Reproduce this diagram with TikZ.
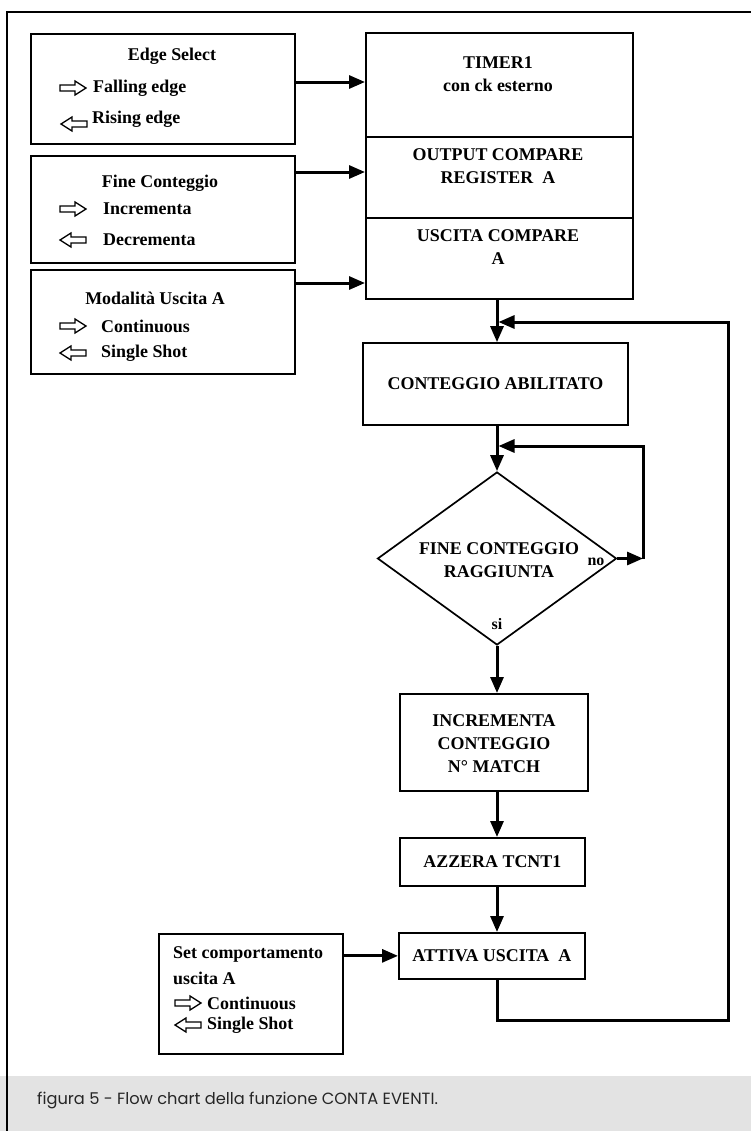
\documentclass[tikz,border=0pt]{standalone}
\usepackage{fontspec}
\setmainfont{Liberation Serif}
\newfontfamily\capfont{Poppins}
\usetikzlibrary{arrows.meta,shapes.geometric}
\tikzset{
  rarrow/.pic={\draw[line width=1.3bp,fill=white] (0,-3)--(15,-3)--(15,-7)--(26,0)--(15,7)--(15,3)--(0,3)--cycle;},
  larrow/.pic={\draw[line width=1.3bp,fill=white] (26,-3)--(11,-3)--(11,-7)--(0,0)--(11,7)--(11,3)--(26,3)--cycle;}
}
\begin{document}
\begin{tikzpicture}[x=1bp,y=-1bp,
  box/.style={draw=black,line width=1.7bp,inner sep=0pt,fill=white},
  bigfont/.style={font=\bfseries\fontsize{18}{23}\selectfont},
  lbl/.style={bigfont,inner sep=0pt,align=center},
  llbl/.style={lbl,anchor=west},
  conn/.style={line width=3bp,-{Triangle[length=16bp,width=13bp]}},
  lineonly/.style={line width=3bp}]
\useasboundingbox (0,0) rectangle (751,1131);
\fill[white] (0,0) rectangle (751,1131);
\fill[gray!22] (0,1076) rectangle (751,1131);
\draw[line width=2bp] (751,12) -- (7,12) -- (7,1131);

% left boxes
\node[box,minimum width=264bp,minimum height=110bp,anchor=north west] (edge) at (30,33) {};
\node[box,minimum width=264bp,minimum height=107bp,anchor=north west] (fine) at (30,155) {};
\node[box,minimum width=264bp,minimum height=104bp,anchor=north west] (moda) at (30,269) {};

\node[lbl] (edget) at (172,56) {Edge Select};
\pic at (60,88) {rarrow};
\node[llbl] (falling) at (93,88) {Falling edge};
\pic at (61,124) {larrow};
\node[llbl] (rising) at (92,119) {Rising edge};

\node[lbl] (finet) at (160,183) {Fine Conteggio};
\pic at (60,209) {rarrow};
\node[llbl] (incr) at (103,209) {Incrementa};
\pic at (60,240) {larrow};
\node[llbl] (decr) at (103,240) {Decrementa};

\node[lbl] (modat) at (155,298) {Modalità Uscita A};
\pic at (60,326) {rarrow};
\node[llbl] (cont) at (101,326) {Continuous};
\pic at (60,353) {larrow};
\node[llbl] (single) at (101,353) {Single Shot};

% timer block
\node[box,minimum width=267bp,minimum height=104bp,anchor=north west] (timer) at (365,32) {};
\node[box,minimum width=267bp,minimum height=81bp,anchor=north west] (ocr) at (365,136) {};
\node[box,minimum width=267bp,minimum height=81bp,anchor=north west] (usc) at (365,217) {};
\node[lbl] (timert) at (498,74) {TIMER1\\con ck esterno};
\node[lbl] (ocrt) at (498,166) {OUTPUT COMPARE\\REGISTER\ \ A};
\node[lbl] (usct) at (498,247) {USCITA COMPARE\\A};

\coordinate (a1) at (0,82);
\coordinate (a2) at (0,172);
\coordinate (a3) at (0,283);
\draw[conn] (edge.east |- a1) -- (timer.west |- a1);
\draw[conn] (fine.east |- a2) -- (ocr.west |- a2);
\draw[conn] (moda.east |- a3) -- (usc.west |- a3);

% flow
\coordinate (colx) at (497,0);
\node[box,minimum width=265bp,minimum height=82bp,bigfont] (cab) at (495.5,384) {CONTEGGIO ABILITATO};
\node[draw=black,line width=1.7bp,diamond,aspect=1.38,minimum width=239bp,minimum height=173bp,inner sep=0pt,fill=white] (dia) at (497,558.5) {};
\node[lbl] (diat) at (499,560) {FINE CONTEGGIO\\RAGGIUNTA};
\node[lbl,font=\bfseries\fontsize{16}{18}\selectfont] (no) at (596,562) {no};
\node[lbl,font=\bfseries\fontsize{16}{18}\selectfont] (si) at (497,624) {si};

\node[box,minimum width=188bp,minimum height=97bp,anchor=north west] (inc) at (399,693) {};
\node[lbl] (inct) at (494,744) {INCREMENTA\\CONTEGGIO\\N° MATCH};
\node[box,minimum width=185bp,minimum height=48bp,anchor=north west,bigfont] (azz) at (399,837) {AZZERA TCNT1};
\node[box,minimum width=186bp,minimum height=46bp,anchor=north west,bigfont] (att) at (398,932) {ATTIVA USCITA\ \ A};

\node[box,minimum width=184bp,minimum height=120bp,anchor=north west] (set) at (158,933) {};
\node[llbl] (set1) at (173,954) {Set comportamento};
\node[llbl] (set2) at (173,978) {uscita A};
\pic at (175,1003) {rarrow};
\node[llbl] (set3) at (207,1003) {Continuous};
\pic at (175,1025) {larrow};
\node[llbl] (set4) at (207,1025) {Single Shot};

% connectors
\coordinate (j1) at (497,322);
\coordinate (j2) at (497,446);
\coordinate (c1) at (728,1020);
\coordinate (c2) at (643,558.5);
\draw[conn] (usc.south -| colx) -- (cab.north -| colx);
\draw[conn] (cab.south -| colx) -- (dia.north);
\draw[conn] (dia.south) -- (inc.north -| colx);
\draw[conn] (inc.south -| colx) -- (azz.north -| colx);
\draw[conn] (azz.south -| colx) -- (att.north -| colx);
\draw[conn] (set.east |- att.west) -- (att.west);
\draw[conn] (dia.east) -- (c2);
\draw[conn] (c2) |- ([xshift=1.5bp]j2);
\draw[conn] (att.south -| colx) |- (c1) |- ([xshift=1.5bp]j1);

% caption
\node[font=\capfont\fontsize{16.3}{19}\selectfont,anchor=west,inner sep=0pt,text=black!85] (cap) at (37,1100) {figura 5 - Flow chart della funzione CONTA EVENTI.};
\end{tikzpicture}
\end{document}
